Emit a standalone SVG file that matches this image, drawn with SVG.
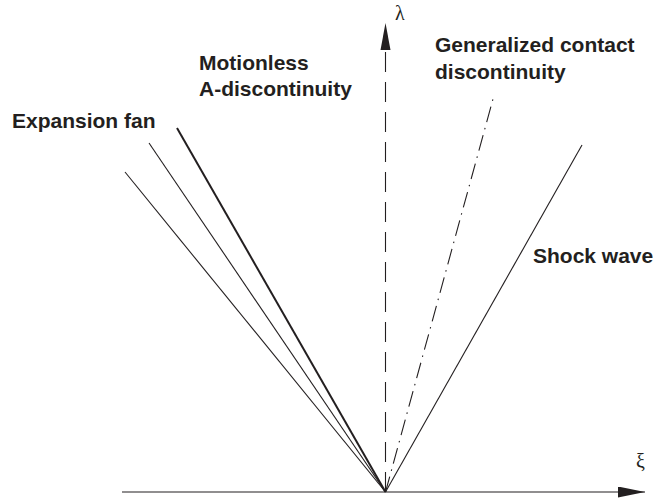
<svg xmlns="http://www.w3.org/2000/svg" width="653" height="503" viewBox="0 0 653 503">
<style>
.lbl{font-family:"Liberation Sans",Arial,sans-serif;font-weight:bold;font-size:21px;fill:#231f20}
.sym{font-family:"Liberation Serif","Times New Roman",serif;font-size:20px;fill:#231f20}
.ln{stroke:#231f20;fill:none;stroke-width:1.1}
</style>
<defs>
<marker id="ah" markerWidth="27" markerHeight="11" refX="27" refY="5.5" orient="auto" markerUnits="userSpaceOnUse">
<path d="M0,0 L27,5.5 L0,11 Z" fill="#231f20"/>
</marker>
</defs>
<rect width="653" height="503" fill="#fff"/>
<g id="connectors">
<line id="xi-axis" class="ln" x1="122" y1="492" x2="645" y2="492" marker-end="url(#ah)"/>
<line id="lambda-dash" class="ln" x1="385.5" y1="492" x2="385.5" y2="50" stroke-dasharray="20 10"/>
<path d="M380.5,50 L385.5,23 L390.5,50 Z" fill="#231f20"/>
<line class="ln" x1="385.5" y1="492" x2="125" y2="172"/>
<line class="ln" x1="385.5" y1="492" x2="149" y2="143"/>
<line class="ln" x1="385.5" y1="492" x2="177" y2="128" style="stroke-width:2"/>
<line class="ln" x1="385.5" y1="492" x2="493" y2="99" stroke-dasharray="16 6 1.5 6"/>
<line class="ln" x1="385.5" y1="492" x2="582" y2="145"/>
</g>
<g id="label-expansion"><text class="lbl" x="12" y="128">Expansion fan</text></g>
<g id="label-motionless"><text class="lbl" x="199" y="70">Motionless</text><text class="lbl" x="199" y="96">A-discontinuity</text></g>
<g id="label-contact"><text class="lbl" x="435" y="52">Generalized contact</text><text class="lbl" x="435" y="79">discontinuity</text></g>
<g id="label-shock"><text class="lbl" x="533" y="263">Shock wave</text></g>
<g id="label-lambda"><text class="sym" x="395" y="20">λ</text></g>
<g id="label-xi"><text class="sym" x="636" y="468">ξ</text></g>
</svg>
